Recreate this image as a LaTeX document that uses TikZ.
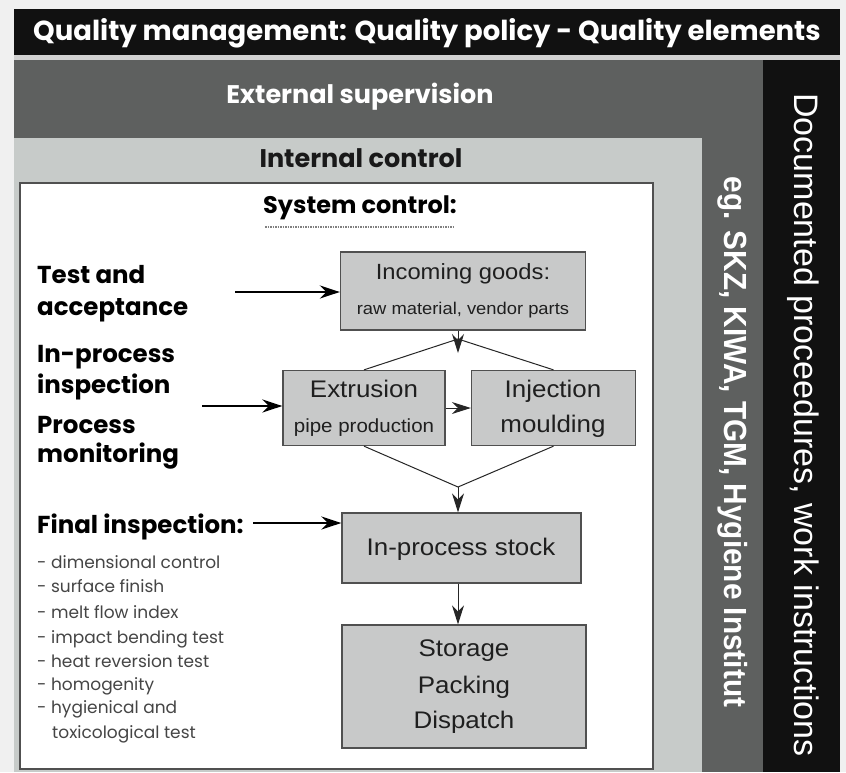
\documentclass[tikz,border=0pt]{standalone}
\usepackage{fontspec}
\setmainfont{Poppins}
\newfontfamily\arialf{Liberation Sans}
\newfontfamily\arialw[FakeStretch=1.08]{Liberation Sans}
\newfontfamily\arialn[FakeStretch=0.93]{Liberation Sans}
\usetikzlibrary{arrows.meta}
\definecolor{dgray}{HTML}{5E605F}
\definecolor{lgray}{HTML}{C7CBC9}
\definecolor{boxgray}{HTML}{C8C9C9}
\definecolor{boxline}{HTML}{505050}
\definecolor{listgray}{HTML}{454545}
\definecolor{titleblack}{HTML}{111111}
\begin{document}
\begin{tikzpicture}[x=1pt,y=-1pt,
  proc/.style={draw=boxline, fill=boxgray, line width=1.3pt, inner sep=0pt},
  boxtxt/.style={font=\arialw\fontsize{24}{24}\selectfont, text=black!88, inner sep=0pt, anchor=base},
  smallbox/.style={font=\arialw\fontsize{19}{19}\selectfont, text=black!88, inner sep=0pt, anchor=base},
  lefttxt/.style={font=\bfseries\fontsize{24.5}{24.5}\selectfont, text=black, inner sep=0pt, anchor=base west},
  listtxt/.style={font=\fontsize{17}{17}\selectfont, text=listgray, inner sep=0pt, anchor=base west},
  conn/.style={draw=black!85, line width=1pt},
  arr/.style={conn, -{Stealth[length=19pt,width=12pt]}},
  bigarr/.style={draw=black, line width=2.6pt, -{Stealth[length=20pt,width=13pt]}},
]
\useasboundingbox (0,0) rectangle (846,772);
% background
\fill[white!94!black] (0,0) rectangle (846,772);
% title bar
\fill[titleblack] (14,9) rectangle (840,55);
\fill[white!82!black] (14,55) rectangle (840,60);
\node[font=\bfseries\fontsize{27.5}{27.5}\selectfont, text=white, inner sep=0pt] (title) at (427,33) {Quality management: Quality policy - Quality elements};
% external supervision region
\fill[dgray] (14,60) rectangle (763,772);
\fill[titleblack] (763,60) rectangle (840,772);
\node[font=\bfseries\fontsize{25.5}{25.5}\selectfont, text=white, inner sep=0pt] (ext-sup) at (360,97) {External supervision};
% internal control region
\fill[lgray] (14,138) rectangle (702,772);
\node[font=\bfseries\fontsize{25.5}{25.5}\selectfont, text=black!90, inner sep=0pt] (int-ctl) at (361,158) {Internal control};
% system control box
\filldraw[fill=white, draw=boxline, line width=1.5pt] (20,183) rectangle (653,769);
\node[font=\bfseries\fontsize{24}{24}\selectfont, text=black, inner sep=0pt] (sys) at (360,208) {System control:};
\coordinate (ul1) at (265,227);
\coordinate (ul2) at (455,227);
\draw[gray, line width=1.5pt, densely dotted] (ul1) -- (ul2);
% vertical texts
\node[rotate=-90, font=\arialf\fontsize{34}{34}\selectfont, text=white, inner sep=0pt] (doc) at (803,425) {Documented proceedures, work instructions};
\node[rotate=-90, font=\arialn\bfseries\fontsize{32}{32}\selectfont, text=white, inner sep=0pt] (eg) at (733,442) {eg. SKZ, KIWA, TGM, Hygiene Institut};
% process boxes
\node[proc, minimum width=245pt, minimum height=78pt] (inc) at (463,291) {};
\node[proc, minimum width=162pt, minimum height=75pt] (ext) at (364,408) {};
\node[proc, minimum width=164pt, minimum height=75pt] (inj) at (553.5,408) {};
\node[proc, minimum width=239pt, minimum height=70pt] (stock) at (461.5,548) {};
\node[proc, minimum width=244pt, minimum height=123pt] (stor) at (464,686.5) {};
% box texts
\node[boxtxt, font=\arialw\fontsize{22}{22}\selectfont] (inc1) at (463,279) {Incoming goods:};
\node[smallbox, font=\arialw\fontsize{17}{17}\selectfont] (inc2) at (463,314) {raw material, vendor parts};
\node[boxtxt] (ext1) at (364,397) {Extrusion};
\node[smallbox] (ext2) at (364,432) {pipe production};
\node[boxtxt] (inj1) at (553,397) {Injection};
\node[boxtxt] (inj2) at (553,432) {moulding};
\node[boxtxt] (stock1) at (461,555) {In-process stock};
\node[boxtxt] (stor1) at (464,656) {Storage};
\node[boxtxt] (stor2) at (464,693) {Packing};
\node[boxtxt] (stor3) at (464,728) {Dispatch};
% connectors
\coordinate (top) at (458,339);
\coordinate (topTip) at (458,353);
\coordinate (bot) at (458,487);
\draw[conn] (ext.north) -- (top) -- (inj.north);
\draw[arr] (inc.south -| top) -- (topTip);
\draw[arr] (ext.east) -- (inj.west);
\draw[conn] (ext.south) -- (bot) -- (inj.south);
\draw[arr] (bot) -- (bot |- stock.north);
\draw[arr] (stock.south -| bot) -- (stor.north -| bot);
% left labels
\node[lefttxt] (l1) at (37,283) {Test and};
\node[lefttxt] (l2) at (37,315) {acceptance};
\node[lefttxt] (l3) at (37,362) {In-process};
\node[lefttxt] (l4) at (37,393) {inspection};
\node[lefttxt] (l5) at (37,433) {Process};
\node[lefttxt] (l6) at (37,462) {monitoring};
\node[lefttxt] (l7) at (37,533) {Final inspection:};
\coordinate (a1) at (235,292);
\coordinate (a2) at (202,406);
\coordinate (a3) at (253,523);
\draw[bigarr] (a1) -- (a1 -| inc.west);
\draw[bigarr] (a2) -- (a2 -| ext.west);
\draw[bigarr] (a3) -- (a3 -| stock.west);
% list
\node[listtxt] (i1) at (37,568) {- dimensional control};
\node[listtxt] (i2) at (37,592) {- surface finish};
\node[listtxt] (i3) at (37,618) {- melt flow index};
\node[listtxt] (i4) at (37,643) {- impact bending test};
\node[listtxt] (i5) at (37,667) {- heat reversion test};
\node[listtxt] (i6) at (37,690) {- homogenity};
\node[listtxt] (i7) at (37,713) {- hygienical and};
\node[listtxt] (i8) at (52,738) {toxicological test};
\end{tikzpicture}
\end{document}
